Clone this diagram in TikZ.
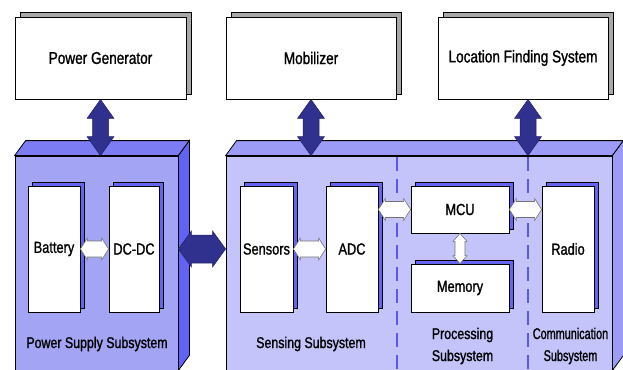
\documentclass[tikz,border=0pt]{standalone}
\usepackage{fontspec}
\setmainfont{Liberation Sans}[FakeStretch=0.8,FakeBold=1.2]
\newfontfamily\narrowfont{Liberation Sans}[FakeStretch=0.7,FakeBold=1.2]
\usetikzlibrary{calc,shadows}
\definecolor{psfront}{HTML}{A4A4F4}
\definecolor{pstop}{HTML}{7C7CF4}
\definecolor{psside}{HTML}{6262F4}
\definecolor{ssfront}{HTML}{C4C4FA}
\definecolor{sstop}{HTML}{9C9CF6}
\definecolor{ssside}{HTML}{9C9CF6}
\definecolor{shadowpurple}{HTML}{6464F0}
\definecolor{darkarrow}{HTML}{30308E}
\definecolor{dashblue}{HTML}{5A5AEA}
\definecolor{shadowgray}{HTML}{A8A8A8}
% horizontal double arrow: style, left, right, head length, head half width, body half width
\newcommand\hdarrow[6]{\path[#1] let \p1=(#2), \p2=(#3) in
  (\x1,\y1) -- (\x1+#4,\y1+#5) -- (\x1+#4,\y1+#6) -- (\x2-#4,\y2+#6) -- (\x2-#4,\y2+#5)
  -- (\x2,\y2) -- (\x2-#4,\y2-#5) -- (\x2-#4,\y2-#6) -- (\x1+#4,\y1-#6) -- (\x1+#4,\y1-#5) -- cycle;}
% vertical double arrow: style, top, bottom, head length, head half width, body half width
\newcommand\vdarrow[6]{\path[#1] let \p1=(#2), \p2=(#3) in
  (\x1,\y1) -- (\x1+#5,\y1-#4) -- (\x1+#6,\y1-#4) -- (\x2+#6,\y2+#4) -- (\x2+#5,\y2+#4)
  -- (\x2,\y2) -- (\x2-#5,\y2+#4) -- (\x2-#6,\y2+#4) -- (\x1-#6,\y1-#4) -- (\x1-#5,\y1-#4) -- cycle;}
\begin{document}
\begin{tikzpicture}[x=1pt,y=-1pt,line join=miter,
  topbox/.style={draw=black,line width=0.9pt,fill=white,minimum width=#1,minimum height=82pt,inner sep=0pt,
    font=\fontsize{17}{20}\selectfont,
    copy shadow={shadow xshift=5pt,shadow yshift=5pt,fill=shadowgray,draw=black,line width=0.9pt}},
  innerbox/.style n args={2}{draw=black,line width=0.8pt,fill=white,minimum width=#1,minimum height=#2,inner sep=0pt,
    font=\fontsize{16}{19}\selectfont,
    copy shadow={shadow xshift=4pt,shadow yshift=4pt,fill=shadowpurple,draw=black,line width=0.8pt}},
  face/.style={draw=black,line width=0.8pt},
  sublabel/.style={font=\fontsize{15.5}{22}\selectfont,align=center,inner sep=0pt},
  divider/.style={draw=dashblue,line width=1.6pt,dash pattern=on 14pt off 8pt},
  darkarr/.style={fill=darkarrow,draw=darkarrow!70!black,line width=0.5pt},
  whitearr/.style={fill=white,draw=black!55,line width=0.6pt},
]
\useasboundingbox (0,0) rectangle (623,369);
\clip (0,0) rectangle (623,369);

% big subsystem boxes
\node[face,fill=psfront,minimum width=163pt,minimum height=214pt,inner sep=0pt] (ps) at (96.5,263) {};
\path[face,fill=pstop] (ps.north west) -- ++(11,-15) -- ($(ps.north east)+(11,-15)$) -- (ps.north east) -- cycle;
\path[face,fill=psside] (ps.north east) -- ++(11,-15) -- ($(ps.south east)+(11,-15)$) -- (ps.south east) -- cycle;

\node[face,fill=ssfront,minimum width=386pt,minimum height=214pt,inner sep=0pt] (ss) at (419,263) {};
\path[face,fill=sstop] (ss.north west) -- ++(11,-15) -- ($(ss.north east)+(11,-15)$) -- (ss.north east) -- cycle;
\path[face,fill=ssside] (ss.north east) -- ++(11,-15) -- ($(ss.south east)+(11,-15)$) -- (ss.south east) -- cycle;

% dividers
\coordinate (d1) at (397,157);
\coordinate (d2) at (528,157);
\draw[divider] (d1) -- (d1 |- ss.south);
\draw[divider] (d2) -- (d2 |- ss.south);

% subsystem labels
\node[sublabel] (psl) at (97,344) {Power Supply Subsystem};
\node[sublabel] (ssl) at (311,344) {Sensing Subsystem};
\node[sublabel] (prl) at (462.5,346) {Processing\\Subsystem};
\node[sublabel,font=\narrowfont\fontsize{15.5}{22}\selectfont] (cml) at (570.5,346) {Communication\\Subsystem};

% inner boxes
\node[innerbox={52pt}{126pt}] (bat) at (54,249) {Battery};
\node[innerbox={50pt}{126pt}] (dcdc) at (134,249) {DC-DC};
\node[innerbox={53pt}{126pt}] (sen) at (266.5,249) {Sensors};
\node[innerbox={52pt}{126pt}] (adc) at (352,249) {ADC};
\node[innerbox={98pt}{47pt}] (mcu) at (460,209.5) {MCU};
\node[innerbox={98pt}{48pt}] (mem) at (460,288) {Memory};
\node[innerbox={52pt}{126pt}] (rad) at (568,249) {Radio};

% white connectors
\hdarrow{whitearr}{bat.east}{dcdc.west}{7pt}{11pt}{8pt}
\hdarrow{whitearr}{sen.east}{adc.west}{7pt}{11pt}{8pt}
\hdarrow{whitearr}{adc.east |- mcu.east}{mcu.west}{7pt}{11pt}{8pt}
\hdarrow{whitearr}{mcu.east}{rad.west |- mcu.east}{7pt}{11pt}{8pt}
\vdarrow{whitearr}{mcu.south}{mem.north}{8pt}{7pt}{5pt}

% top boxes
\node[topbox=171pt] (pg) at (100.5,58) {Power Generator};
\node[topbox=170pt] (mob) at (311,58) {Mobilizer};
\node[topbox=170pt] (lfs) at (523,58) {Location Finding System};

% dark connectors
\hdarrow{darkarr}{bat -| ps.east}{bat -| ss.west}{13pt}{18pt}{14pt}
\vdarrow{darkarr}{pg.south}{pg.south |- ps.north}{19pt}{13.5pt}{8pt}
\vdarrow{darkarr}{mob.south}{mob.south |- ss.north}{19pt}{13.5pt}{8pt}
\vdarrow{darkarr}{d2 |- lfs.south}{d2 |- ss.north}{19pt}{13.5pt}{8pt}
\end{tikzpicture}
\end{document}
